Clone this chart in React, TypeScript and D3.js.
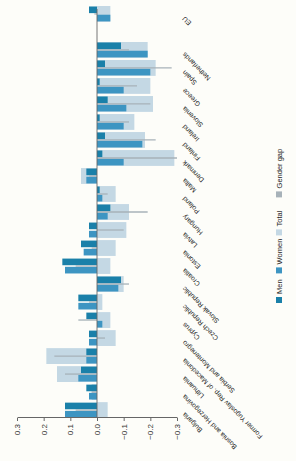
import React, { useEffect, useRef } from 'react';
import * as d3 from 'd3';

// categories, left to right in the unrotated chart (bottom to top on screen)
const countries = [
  'Bulgaria', 'Bosnia and Herzegovina', 'Lithuania', 'Former Yugoslav Rep. of Macedonia',
  'Serbia and Montenegro', 'Cyprus', 'Czech Republic', 'Slovak Republic', 'Croatia',
  'Estonia', 'Latvia', 'Hungary', 'Poland', 'Malta', 'Denmark', 'Finland', 'Ireland',
  'Slovenia', 'Greece', 'Spain', 'Netherlands',
];
const aggregate = 'EU';

const totalValues = [-0.04, 0.02, 0.15, 0.19, -0.07, -0.05, -0.02, -0.1, -0.05, -0.07, -0.11, -0.12, -0.07, 0.06, -0.29, -0.18, -0.14, -0.21, -0.2, -0.22, -0.19, -0.05];
const menValues = [0.12, 0.04, 0.06, 0.04, 0.03, 0.04, 0.07, -0.09, 0.13, 0.06, 0.03, -0.05, -0.01, 0.04, -0.02, -0.03, -0.01, -0.04, -0.01, -0.03, -0.09, 0.03];
const womenValues = [0.12, 0.03, 0.07, 0.04, 0.03, -0.02, 0.07, -0.08, 0.12, 0.05, 0.03, -0.04, -0.02, 0.04, -0.1, -0.17, -0.1, -0.11, -0.1, -0.2, -0.19, -0.05];
const gapValues = [0.08, 0.02, 0.12, 0.16, -0.03, 0.07, 0.03, -0.12, 0.08, 0.02, -0.1, -0.19, -0.04, 0.03, -0.3, -0.22, -0.12, -0.2, -0.15, -0.28, -0.12, 0.01];

const tickValues = [-0.3, -0.2, -0.1, 0, 0.1, 0.2, 0.3];
const legendLabels = ['Men', 'Women', 'Total', 'Gender gap'];
const legendColors = ['#1a80a9', '#3d95c2', '#c4d8e4', '#a7b2b9'];

const W = 296;
const H = 461;

const App = () => {
  const svgRef = useRef<SVGSVGElement | null>(null);

  useEffect(() => {
    const svg = d3.select(svgRef.current);
    svg.selectAll('*').remove();

    // the chart is drawn upright (width H, height W) and then turned a quarter left
    const g = svg.append('g').attr('transform', `translate(0,${H}) rotate(-90)`);

    const labels = [...countries, '', aggregate];
    const data = labels
      .map((c, i) => ({ key: `${i}`, name: c, k: c === '' ? -1 : i > countries.length ? countries.length : i }))
      .filter((d) => d.k >= 0);

    const x = d3.scaleBand().domain(labels.map((d, i) => `${i}`)).range([43, 455]).paddingInner(0.12);
    const y = d3.scaleLinear().domain([-0.3, 0.3]).range([177, 17]);
    const bw = x.bandwidth();

    const bar = (v: number) => ({ y: Math.min(y(v), y(0)), h: Math.abs(y(v) - y(0)) });

    g.selectAll('.total')
      .data(data)
      .enter()
      .append('rect')
      .attr('x', (d) => x(d.key)!)
      .attr('width', bw)
      .attr('y', (d) => bar(totalValues[d.k]).y)
      .attr('height', (d) => bar(totalValues[d.k]).h)
      .attr('fill', legendColors[2]);

    g.selectAll('.men')
      .data(data)
      .enter()
      .append('rect')
      .attr('x', (d) => x(d.key)! + bw * 0.55)
      .attr('width', bw * 0.42)
      .attr('y', (d) => bar(menValues[d.k]).y)
      .attr('height', (d) => bar(menValues[d.k]).h)
      .attr('fill', legendColors[0]);

    g.selectAll('.women')
      .data(data)
      .enter()
      .append('rect')
      .attr('x', (d) => x(d.key)! + bw * 0.03)
      .attr('width', bw * 0.42)
      .attr('y', (d) => bar(womenValues[d.k]).y)
      .attr('height', (d) => bar(womenValues[d.k]).h)
      .attr('fill', legendColors[1]);

    g.selectAll('.gap')
      .data(data)
      .enter()
      .append('line')
      .attr('x1', (d) => x(d.key)! + bw / 2)
      .attr('x2', (d) => x(d.key)! + bw / 2)
      .attr('y1', y(0))
      .attr('y2', (d) => y(gapValues[d.k]))
      .attr('stroke', legendColors[3])
      .attr('stroke-width', 1.3);

    // zero line
    g.append('line')
      .attr('x1', 43)
      .attr('x2', 452)
      .attr('y1', y(0))
      .attr('y2', y(0))
      .attr('stroke', '#666')
      .attr('stroke-width', 0.9);

    const yAxis = d3
      .axisLeft(y)
      .tickValues(tickValues)
      .tickSize(3)
      .tickSizeOuter(0)
      .tickFormat(d3.format('.1f'));

    const ax = g.append('g').attr('transform', 'translate(43,0)').call(yAxis);
    ax.select('.domain').attr('stroke', '#666');
    ax.selectAll('line').attr('stroke', '#666');
    ax.selectAll('text')
      .attr('font-size', 8)
      .attr('font-family', 'Liberation Sans, Arial, sans-serif')
      .attr('fill', '#333');

    // category labels under the plot
    g.selectAll('.label')
      .data(data)
      .enter()
      .append('text')
      .attr('transform', (d) => `translate(${x(d.key)! + bw / 2 - 2},185) rotate(-45)`)
      .attr('text-anchor', 'end')
      .attr('font-size', 6.8)
      .attr('font-family', 'Liberation Sans, Arial, sans-serif')
      .attr('fill', '#222')
      .text((d) => d.name);

    // legend
    const lg = g.append('g').attr('transform', 'translate(158,276)');
    let off = 0;
    legendLabels.forEach((l, i) => {
      lg.append('rect').attr('x', off).attr('y', 0).attr('width', 6).attr('height', 6).attr('fill', legendColors[i]);
      lg.append('text')
        .attr('x', off + 9)
        .attr('y', 6)
        .attr('font-size', 7.5)
        .attr('font-family', 'Liberation Sans, Arial, sans-serif')
        .attr('fill', '#222')
        .text(l);
      off += 9 + l.length * 4.2 + 8;
    });
  }, []);

  return (
    <svg
      ref={svgRef}
      width={W}
      height={H}
      style={{ position: 'absolute', left: 0, top: 0, background: '#fdfdf9' }}
    />
  );
};

export default App;
